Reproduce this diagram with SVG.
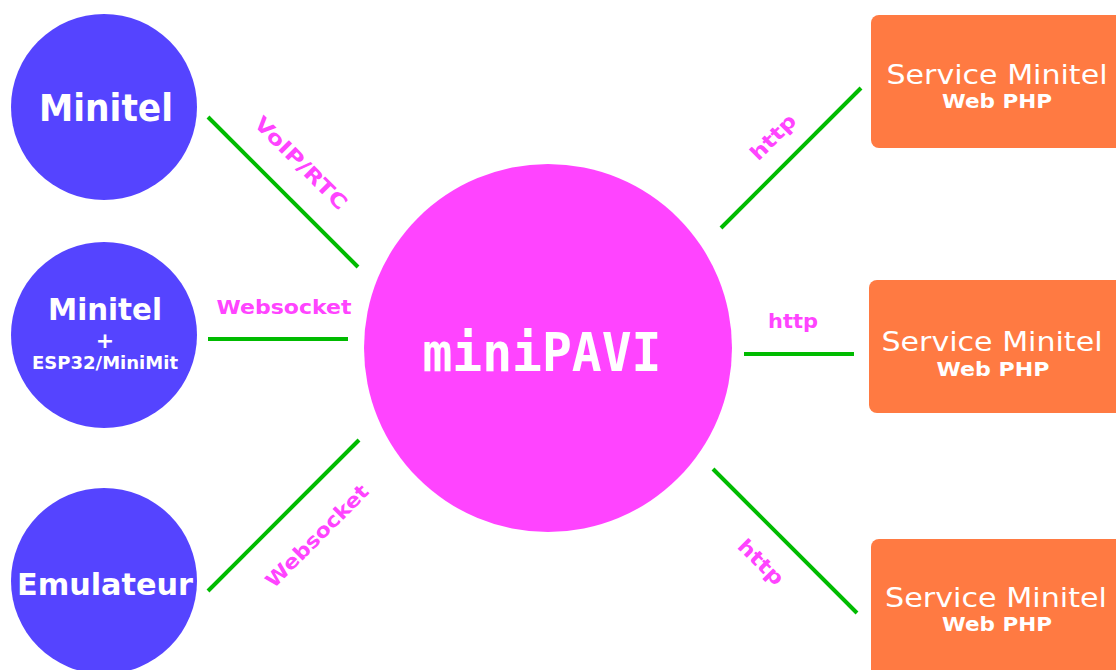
<svg xmlns="http://www.w3.org/2000/svg" width="1116" height="670" viewBox="0 0 1116 670">
<style>
.client{fill:#5544ff}
.hub{fill:#ff44ff}
.svc{fill:#ff7a42}
.wt{fill:#ffffff;font-family:"DejaVu Sans","Liberation Sans",sans-serif;font-weight:bold;text-anchor:middle}
.svt{fill:#ffffff;font-family:"DejaVu Sans","Liberation Sans",sans-serif;font-weight:normal;text-anchor:middle;font-size:26px}
.lbl{fill:#ff44ff;font-family:"DejaVu Sans","Liberation Sans",sans-serif;font-weight:bold;font-size:20px;text-anchor:middle;dominant-baseline:central}
.conn{stroke:#00bb00;stroke-width:4;fill:none}
</style>
<rect width="1116" height="670" fill="#ffffff"/>
<g id="connectors">
<line class="conn" x1="208" y1="117" x2="358" y2="267"/>
<line class="conn" x1="208" y1="339" x2="348" y2="339"/>
<line class="conn" x1="208" y1="591" x2="359" y2="440"/>
<line class="conn" x1="721" y1="228" x2="861" y2="88"/>
<line class="conn" x1="744" y1="354" x2="854" y2="354"/>
<line class="conn" x1="713" y1="469" x2="857" y2="613"/>
<text class="lbl" x="301" y="163" transform="rotate(45 301 163)" font-size="22" textLength="122" lengthAdjust="spacingAndGlyphs">VoIP/RTC</text>
<text class="lbl" x="284" y="307" textLength="135" lengthAdjust="spacingAndGlyphs">Websocket</text>
<text class="lbl" x="317" y="536" transform="rotate(-45 317 536)" textLength="136" lengthAdjust="spacingAndGlyphs">Websocket</text>
<text class="lbl" x="773" y="137" transform="rotate(-45 773 137)" textLength="56" lengthAdjust="spacingAndGlyphs">http</text>
<text class="lbl" x="793" y="321" textLength="50" lengthAdjust="spacingAndGlyphs">http</text>
<text class="lbl" x="761" y="562" transform="rotate(45 761 562)" textLength="56" lengthAdjust="spacingAndGlyphs">http</text>
</g>
<g id="minitel">
<circle class="client" cx="104" cy="107" r="93"/>
<text class="wt" x="106" y="121" font-size="37" textLength="134" lengthAdjust="spacingAndGlyphs">Minitel</text>
</g>
<g id="minitel-esp32">
<circle class="client" cx="104" cy="335" r="93"/>
<text class="wt" x="105" y="320" font-size="30" textLength="114" lengthAdjust="spacingAndGlyphs">Minitel</text>
<text class="wt" x="105" y="348" font-size="22">+</text>
<text class="wt" x="105" y="369" font-size="17" textLength="146" lengthAdjust="spacingAndGlyphs">ESP32/MiniMit</text>
</g>
<g id="emulateur">
<circle class="client" cx="104" cy="581" r="93"/>
<text class="wt" x="105" y="595" font-size="31" textLength="176" lengthAdjust="spacingAndGlyphs">Emulateur</text>
</g>
<g id="minipavi">
<circle class="hub" cx="548" cy="348" r="184"/>
<text x="542" y="371" fill="#ffffff" font-family="'DejaVu Sans Mono','Liberation Mono',monospace" font-weight="bold" font-size="54" text-anchor="middle" textLength="239" lengthAdjust="spacingAndGlyphs">miniPAVI</text>
</g>
<g id="service1">
<rect class="svc" x="871" y="15" width="270" height="133" rx="8"/>
<text class="svt" x="997" y="84" textLength="221" lengthAdjust="spacingAndGlyphs">Service Minitel</text>
<text class="wt" x="997" y="108" font-size="19" textLength="110" lengthAdjust="spacingAndGlyphs">Web PHP</text>
</g>
<g id="service2">
<rect class="svc" x="869" y="280" width="270" height="133" rx="8"/>
<text class="svt" x="992" y="351" textLength="221" lengthAdjust="spacingAndGlyphs">Service Minitel</text>
<text class="wt" x="993" y="376" font-size="19" textLength="113" lengthAdjust="spacingAndGlyphs">Web PHP</text>
</g>
<g id="service3">
<rect class="svc" x="871" y="539" width="270" height="150" rx="8"/>
<text class="svt" x="996" y="607" textLength="222" lengthAdjust="spacingAndGlyphs">Service Minitel</text>
<text class="wt" x="997" y="631" font-size="19" textLength="110" lengthAdjust="spacingAndGlyphs">Web PHP</text>
</g>
</svg>
